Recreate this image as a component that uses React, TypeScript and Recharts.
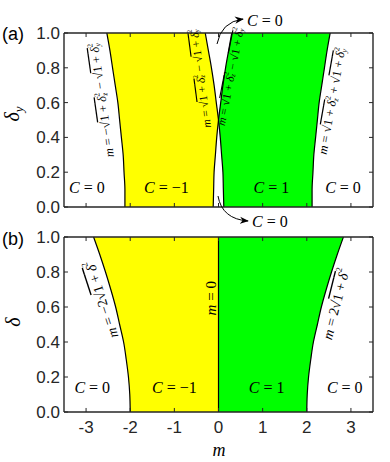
import React from "react";
import {
  Area,
  ComposedChart,
  Line,
  ReferenceDot,
  ReferenceLine,
  XAxis,
  YAxis,
} from "recharts";

// sampled delta values (vertical axis)
const deltas = [0, 0.1, 0.2, 0.3, 0.4, 0.5, 0.6, 0.7, 0.8, 0.9, 1.0];

// panel (a): boundaries in m, read at each delta_y
const aOuterLeft = [-2.12, -2.12, -2.14, -2.16, -2.2, -2.24, -2.28, -2.34, -2.4, -2.46, -2.53];
const aOuterRight = [2.12, 2.12, 2.14, 2.16, 2.2, 2.24, 2.28, 2.34, 2.4, 2.46, 2.53];
const aCrossDown = [0.12, 0.11, 0.1, 0.07, 0.04, 0, -0.05, -0.1, -0.16, -0.23, -0.3];
const aCrossUp = [-0.12, -0.11, -0.1, -0.07, -0.04, 0, 0.05, 0.1, 0.16, 0.23, 0.3];

// panel (b): boundaries in m, read at each delta
const bOuterLeft = [-2, -2.01, -2.04, -2.09, -2.15, -2.24, -2.33, -2.44, -2.56, -2.69, -2.83];
const bOuterRight = [2, 2.01, 2.04, 2.09, 2.15, 2.24, 2.33, 2.44, 2.56, 2.69, 2.83];

const xTicks = [-3, -2, -1, 0, 1, 2, 3];
const yTicks = [0, 0.2, 0.4, 0.6, 0.8, 1.0];

const YELLOW = "#ffff00";
const GREEN = "#00ff00";
const FRAME = "#262626";
const SERIF = "'Liberation Serif', 'DejaVu Serif', serif";
const SANS = "'Liberation Sans', Arial, sans-serif";

const dataA = deltas.map((d, i) => ({
  d,
  left: aOuterLeft[i],
  right: aOuterRight[i],
  down: aCrossDown[i],
  up: aCrossUp[i],
  yellow: [aOuterLeft[i], Math.min(aCrossDown[i], aCrossUp[i])],
  green: [Math.max(aCrossDown[i], aCrossUp[i]), aOuterRight[i]],
}));

const dataB = deltas.map((d, i) => ({
  d,
  left: bOuterLeft[i],
  right: bOuterRight[i],
  yellow: [bOuterLeft[i], 0],
  green: [0, bOuterRight[i]],
}));

// box + inward ticks on all four sides
function frame() {
  const out: React.ReactNode[] = [];
  const tx = 0.09;
  const ty = 0.023;
  xTicks.forEach((t) => {
    out.push(
      <ReferenceLine key={`xb${t}`} segment={[{ x: t, y: 0 }, { x: t, y: ty }]} stroke={FRAME} strokeWidth={1} />,
      <ReferenceLine key={`xt${t}`} segment={[{ x: t, y: 1 }, { x: t, y: 1 - ty }]} stroke={FRAME} strokeWidth={1} />,
    );
  });
  yTicks.forEach((t) => {
    out.push(
      <ReferenceLine key={`yl${t}`} segment={[{ x: -3.5, y: t }, { x: -3.5 + tx, y: t }]} stroke={FRAME} strokeWidth={1} />,
      <ReferenceLine key={`yr${t}`} segment={[{ x: 3.5, y: t }, { x: 3.5 - tx, y: t }]} stroke={FRAME} strokeWidth={1} />,
    );
  });
  out.push(
    <ReferenceLine key="f1" x={-3.5} stroke={FRAME} strokeWidth={1.4} />,
    <ReferenceLine key="f2" x={3.5} stroke={FRAME} strokeWidth={1.4} />,
    <ReferenceLine key="f3" y={0} stroke={FRAME} strokeWidth={1.4} />,
    <ReferenceLine key="f4" y={1} stroke={FRAME} strokeWidth={1.4} />,
  );
  return out;
}

// delta with superscript 2 and a subscript
function dsq(size: number, sub?: string) {
  const s = size * 0.62;
  return [
    <tspan key="d" fontStyle="italic" textDecoration="overline">δ</tspan>,
    <tspan key="p" fontSize={s} dy={-size * 0.38}>2</tspan>,
    sub ? (
      <tspan key="s" fontSize={s} fontStyle="italic" dx={-s * 0.5} dy={size * 0.62}>{sub}</tspan>
    ) : null,
    <tspan key="r" fontSize={size} dy={sub ? -size * 0.24 : size * 0.38}>{"\u200a"}</tspan>,
  ];
}

function root(size: number, sub?: string) {
  return [
    <tspan key="v">√</tspan>,
    <tspan key="o" textDecoration="overline">1 + </tspan>,
    ...dsq(size, sub),
  ];
}

function note(angle: number, size: number, body: React.ReactNode, italic = false) {
  return (props: any) => {
    const vb = props.viewBox || {};
    const cx = (vb.x ?? 0) + (vb.width ?? 0) / 2;
    const cy = (vb.y ?? 0) + (vb.height ?? 0) / 2;
    return (
      <text
        x={cx}
        y={cy}
        textAnchor="middle"
        dominantBaseline="central"
        fontFamily={SERIF}
        fontSize={size}
        fontStyle={italic ? "italic" : "normal"}
        fill="#000"
        transform={`rotate(${angle} ${cx} ${cy})`}
      >
        {body}
      </text>
    );
  };
}

function cLabel(value: string) {
  return note(
    0,
    16,
    <>
      <tspan fontStyle="italic">C</tspan>
      <tspan> = {value}</tspan>
    </>,
  );
}

function dot(key: string, x: number, y: number, label: any) {
  return <ReferenceDot key={key} x={x} y={y} r={0.01} fill="none" stroke="none" label={label} ifOverflow="visible" />;
}

const m = <tspan fontStyle="italic">m</tspan>;

const axisTick = { fontSize: 17, fill: FRAME, fontFamily: SANS };

export default function App() {
  return (
    <div style={{ position: "absolute", left: 0, top: 0, width: 390, height: 462, background: "#fff" }}>
      <div style={{ position: "absolute", left: 0, top: 0 }}>
        <ComposedChart layout="vertical" width={390} height={220} data={dataA} margin={{ top: 33, right: 17, bottom: 13, left: 14 }}>
          <XAxis type="number" dataKey="left" domain={[-3.5, 3.5]} ticks={xTicks} hide allowDataOverflow />
          <YAxis
            type="number"
            dataKey="d"
            domain={[0, 1]}
            ticks={yTicks}
            interval={0}
            reversed
            width={50}
            tickLine={false}
            axisLine={false}
            tickSize={0}
            tickMargin={4}
            tick={axisTick}
            tickFormatter={(v: number) => v.toFixed(1)}
          />
          <Area dataKey="yellow" type="monotone" fill={YELLOW} fillOpacity={1} stroke="none" isAnimationActive={false} />
          <Area dataKey="green" type="monotone" fill={GREEN} fillOpacity={1} stroke="none" isAnimationActive={false} />
          <Line dataKey="left" type="monotone" stroke="#000" strokeWidth={1.2} dot={false} isAnimationActive={false} />
          <Line dataKey="right" type="monotone" stroke="#000" strokeWidth={1.2} dot={false} isAnimationActive={false} />
          <Line dataKey="down" type="monotone" stroke="#000" strokeWidth={1.2} dot={false} isAnimationActive={false} />
          <Line dataKey="up" type="monotone" stroke="#000" strokeWidth={1.2} dot={false} isAnimationActive={false} />
          {frame()}
          {dot("c1", -2.98, 0.115, cLabel("0"))}
          {dot("c2", -1.18, 0.115, cLabel("−1"))}
          {dot("c3", 1.2, 0.115, cLabel("1"))}
          {dot("c4", 2.82, 0.115, cLabel("0"))}
          {dot(
            "l1",
            -2.64,
            0.615,
            note(-98, 12.5, <>{m} = −{root(12.5, "z")} − {root(12.5, "y")}</>),
          )}
          {dot(
            "l2",
            -0.41,
            0.74,
            note(-97.5, 11.5, <>{m} = {root(11.5, "z")} − {root(11.5, "y")}</>),
          )}
          {dot(
            "l3",
            0.27,
            0.75,
            note(-79, 11.5, <>{m} = {root(11.5, "z")} − {root(11.5, "y")}</>),
          )}
          {dot(
            "l4",
            2.57,
            0.61,
            note(-80, 12.5, <>{m} = {root(12.5, "z")} + {root(12.5, "y")}</>),
          )}
        </ComposedChart>
      </div>

      <div style={{ position: "absolute", left: 0, top: 220 }}>
        <ComposedChart layout="vertical" width={390} height={242} data={dataB} margin={{ top: 17, right: 17, bottom: 20, left: 14 }}>
          <XAxis
            type="number"
            dataKey="left"
            domain={[-3.5, 3.5]}
            ticks={xTicks}
            interval={0}
            height={30}
            allowDataOverflow
            tickLine={false}
            axisLine={false}
            tickSize={0}
            tickMargin={9}
            tick={axisTick}
          />
          <YAxis
            type="number"
            dataKey="d"
            domain={[0, 1]}
            ticks={yTicks}
            interval={0}
            reversed
            width={50}
            tickLine={false}
            axisLine={false}
            tickSize={0}
            tickMargin={4}
            tick={axisTick}
            tickFormatter={(v: number) => v.toFixed(1)}
          />
          <Area dataKey="yellow" type="monotone" fill={YELLOW} fillOpacity={1} stroke="none" isAnimationActive={false} />
          <Area dataKey="green" type="monotone" fill={GREEN} fillOpacity={1} stroke="none" isAnimationActive={false} />
          <Line dataKey="left" type="monotone" stroke="#000" strokeWidth={1.2} dot={false} isAnimationActive={false} />
          <Line dataKey="right" type="monotone" stroke="#000" strokeWidth={1.2} dot={false} isAnimationActive={false} />
          <ReferenceLine x={0} stroke="#000" strokeWidth={1.2} />
          {frame()}
          {dot("c1", -2.86, 0.143, cLabel("0"))}
          {dot("c2", -1.0, 0.143, cLabel("−1"))}
          {dot("c3", 1.09, 0.143, cLabel("1"))}
          {dot("c4", 2.86, 0.143, cLabel("0"))}
          {dot("l1", -2.66, 0.646, note(-108, 14, <>{m} = −2{root(14)}</>))}
          {dot("l2", -0.18, 0.65, note(-90, 15, <>{m} = 0</>))}
          {dot("l3", 2.66, 0.62, note(-76, 14, <>{m} = 2{root(14)}</>))}
        </ComposedChart>
      </div>

      <svg width={390} height={462} style={{ position: "absolute", left: 0, top: 0, pointerEvents: "none" }}>
        <defs>
          <marker id="head" viewBox="0 0 10 10" refX="9" refY="5" markerWidth="9" markerHeight="9" orient="auto">
            <path d="M0,1 L10,5 L0,9 L3,5 Z" fill="#000" />
          </marker>
        </defs>
        <text x={2} y={40} fontFamily={SANS} fontSize={18} fill="#000">(a)</text>
        <text x={2} y={245} fontFamily={SANS} fontSize={18} fill="#000">(b)</text>
        <text x={219} y={456} textAnchor="middle" fontFamily={SERIF} fontStyle="italic" fontSize={18} fill="#000">m</text>
        <text transform="rotate(-90 19 114)" x={19} y={114} textAnchor="middle" fontFamily={SERIF} fontSize={20} fill="#000">
          <tspan fontStyle="italic">δ</tspan>
          <tspan fontSize={13} fontStyle="italic" dy={4}>y</tspan>
        </text>
        <text transform="rotate(-90 20 322)" x={20} y={322} textAnchor="middle" fontFamily={SERIF} fontStyle="italic" fontSize={20} fill="#000">δ</text>
        <path d="M 217 44 Q 221 22 243 19" fill="none" stroke="#000" strokeWidth={1} markerEnd="url(#head)" />
        <text x={247} y={26} fontFamily={SERIF} fontSize={16} fill="#000">
          <tspan fontStyle="italic">C</tspan> = 0
        </text>
        <path d="M 218 196 Q 222 219 248 221" fill="none" stroke="#000" strokeWidth={1} markerEnd="url(#head)" />
        <text x={252} y={227} fontFamily={SERIF} fontSize={16} fill="#000">
          <tspan fontStyle="italic">C</tspan> = 0
        </text>
      </svg>
    </div>
  );
}
